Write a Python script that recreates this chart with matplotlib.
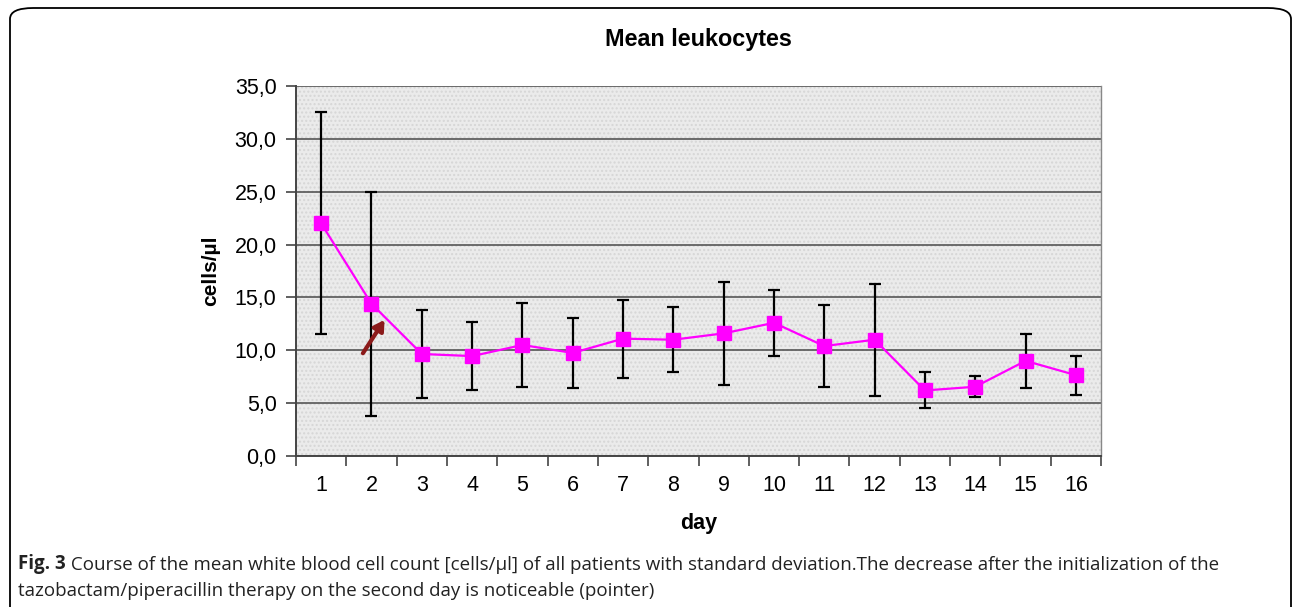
import matplotlib.pyplot as plt
from matplotlib.patches import FancyBboxPatch
import numpy as np

days = list(range(1, 17))
mean_wbc = [22.0, 14.4, 9.65, 9.45, 10.5, 9.75, 11.1, 11.0, 11.6, 12.6, 10.4, 11.0, 6.2, 6.55, 9.0, 7.65]
sd_wbc = [10.5, 10.6, 4.2, 3.2, 4.0, 3.3, 3.7, 3.1, 4.9, 3.1, 3.9, 5.3, 1.7, 1.0, 2.55, 1.85]
yticks = [0, 5, 10, 15, 20, 25, 30, 35]
ytick_labels = ["0,0", "5,0", "10,0", "15,0", "20,0", "25,0", "30,0", "35,0"]

plt.rcParams['font.family'] = ['Liberation Sans', 'DejaVu Sans']

fig = plt.figure(figsize=(12.93, 6.07), dpi=100)

# rounded frame round the whole figure
frame = FancyBboxPatch((10 / 1293, -0.1), 1281 / 1293, 1.1 - 8 / 607,
                       boxstyle="round,pad=0,rounding_size=0.018",
                       transform=fig.transFigure, fill=False, ec="black", lw=1.3)
fig.patches.append(frame)

ax = fig.add_axes([296 / 1293, 1 - 456 / 607, 805 / 1293, 370 / 607])
ax.set_facecolor("#ebebeb")
ax.patch.set_hatch("....")
ax.patch.set_edgecolor("#d6d6d6")

ax.errorbar(days, mean_wbc, yerr=sd_wbc, fmt="none", ecolor="black",
            elinewidth=1.6, capsize=4.5, capthick=1.6, zorder=3)
ax.plot(days, mean_wbc, color="#ff00ff", lw=1.6, marker="s", markersize=10,
        zorder=4)

ax.annotate("", xy=(2.29, 13.1), xytext=(1.8, 9.5),
            arrowprops=dict(arrowstyle="-|>,head_width=0.35,head_length=0.6",
                            color="#8b1a1a", lw=3), zorder=5)

ax.set_xlim(0.5, 16.5)
ax.set_ylim(0, 35)
ax.set_yticks(yticks)
ax.set_yticklabels(ytick_labels, fontsize=15.5)
ax.set_xticks(days)
ax.set_xticklabels([str(d) for d in days], fontsize=15.5)
ax.set_xticks(np.arange(0.5, 17, 1), minor=True)
ax.tick_params(axis="x", which="major", length=0, pad=14)
ax.tick_params(axis="x", which="minor", length=7, width=1.2, color="#444444")
ax.tick_params(axis="y", length=7, width=1.2, color="#444444", pad=7)
ax.grid(axis="y", color="#555555", lw=1.2)
ax.set_axisbelow(True)
for s in ["left", "bottom"]:
    ax.spines[s].set_color("#444444")
    ax.spines[s].set_linewidth(1.4)
ax.spines["top"].set_visible(False)
ax.spines["right"].set_color("#888888")
ax.spines["right"].set_linewidth(1.0)

ax.set_title("Mean leukocytes", fontsize=16.8, fontweight="bold", pad=29)
ax.set_xlabel("day", fontsize=15.5, fontweight="bold", labelpad=12)
ax.set_ylabel("cells/µl", fontsize=15, fontweight="bold", labelpad=10)

# caption
cap_font = ['Open Sans', 'DejaVu Sans']
t1 = fig.text(18 / 1293, 1 - 569 / 607, "Fig. 3", fontsize=13.5, family=cap_font,
              fontweight="bold", va="baseline", color="#222222")
ax.annotate(" Course of the mean white blood cell count [cells/µl] of all patients with standard deviation.The decrease after the initialization of the",
            xy=(1, 0), xycoords=t1, va="bottom", ha="left", fontsize=13.5,
            family=cap_font, color="#222222", annotation_clip=False)
fig.text(18 / 1293, 1 - 591 / 607, "tazobactam/piperacillin therapy on the second day is noticeable (pointer)",
         fontsize=13.5, family=cap_font, va="center", color="#222222")

fig.savefig("out.png", dpi=100)
